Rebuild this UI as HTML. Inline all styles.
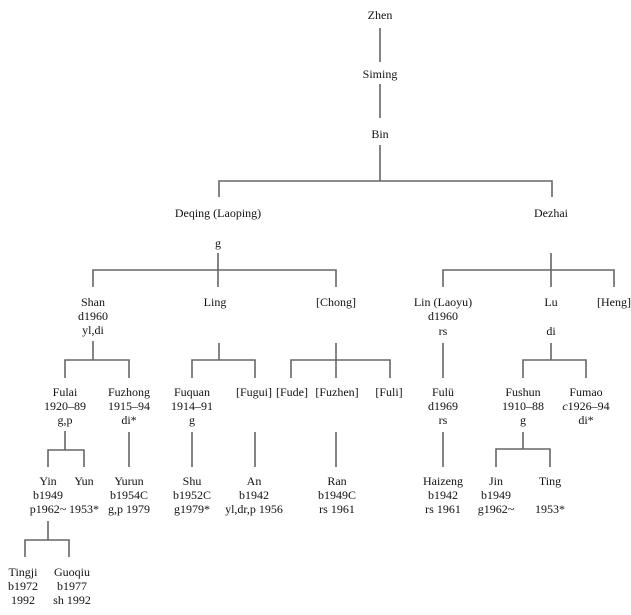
<!DOCTYPE html>
<html><head><meta charset="utf-8"><style>
html,body{margin:0;padding:0;background:#fff;}
svg{display:block;}
text{font-family:"Liberation Serif",serif;font-size:12px;fill:#111;text-anchor:middle;dominant-baseline:central;}
line,polyline{stroke:#666;stroke-width:1.6;fill:none;}
</style></head><body>
<svg width="631" height="615" viewBox="0 0 631 615" xmlns="http://www.w3.org/2000/svg">
<!-- trunk -->
<text x="380" y="15">Zhen</text>
<line x1="380" y1="28" x2="380" y2="62"/>
<text x="380" y="74">Siming</text>
<line x1="380" y1="84" x2="380" y2="118"/>
<text x="380" y="134">Bin</text>
<line x1="380" y1="145" x2="380" y2="181"/>
<polyline points="219,197 219,181 552,181 552,197"/>
<text x="218" y="213">Deqing (Laoping)</text>
<text x="551" y="213">Dezhai</text>
<text x="218" y="243">g</text>
<!-- Deqing children -->
<line x1="218" y1="253" x2="218" y2="287"/>
<polyline points="93,287 93,270 336,270 336,287"/>
<text x="93" y="302">Shan</text><text x="93" y="316">d1960</text><text x="93" y="330">yl,di</text>
<text x="215" y="302">Ling</text>
<text x="336" y="302">[Chong]</text>
<!-- Dezhai children -->
<line x1="551" y1="253" x2="551" y2="287"/>
<polyline points="443,287 443,270 614,270 614,287"/>
<text x="443" y="302">Lin (Laoyu)</text><text x="443" y="316">d1960</text><text x="443" y="331">rs</text>
<text x="551" y="302">Lu</text><text x="551" y="331">di</text>
<text x="614" y="302">[Heng]</text>
<!-- Shan -->
<line x1="93" y1="341" x2="93" y2="360"/>
<polyline points="65,378 65,360 129,360 129,378"/>
<text x="65" y="392">Fulai</text><text x="65" y="406">1920–89</text><text x="65" y="420">g,p</text>
<text x="129" y="392">Fuzhong</text><text x="129" y="406">1915–94</text><text x="129" y="420">di*</text>
<!-- Ling -->
<line x1="219" y1="343" x2="219" y2="360"/>
<polyline points="192,378 192,360 255,360 255,378"/>
<text x="192" y="392">Fuquan</text><text x="192" y="406">1914–91</text><text x="192" y="420">g</text>
<text x="254" y="392">[Fugui]</text>
<!-- Chong -->
<line x1="336" y1="343" x2="336" y2="378"/>
<polyline points="291,378 291,360 390,360 390,378"/>
<text x="292" y="392">[Fude]</text>
<text x="337" y="392">[Fuzhen]</text>
<text x="389" y="392">[Fuli]</text>
<!-- Lin -->
<line x1="443" y1="343" x2="443" y2="378"/>
<text x="443" y="392">Fulü</text><text x="443" y="406">d1969</text><text x="443" y="420">rs</text>
<!-- Lu -->
<line x1="551" y1="343" x2="551" y2="360"/>
<polyline points="523,378 523,360 586,360 586,378"/>
<text x="523" y="392">Fushun</text><text x="523" y="406">1910–88</text><text x="523" y="420">g</text>
<text x="586" y="392">Fumao</text><text x="586" y="406"><tspan font-style="italic">c</tspan>1926–94</text><text x="586" y="420">di*</text>
<!-- generation 5 -->
<line x1="65" y1="431" x2="65" y2="450"/>
<polyline points="48,467 48,450 84,450 84,467"/>
<text x="48" y="481">Yin</text><text x="48" y="495">b1949</text><text x="48" y="509">p1962~</text>
<text x="84" y="481">Yun</text><text x="84" y="509">1953*</text>
<line x1="129" y1="432" x2="129" y2="467"/>
<text x="129" y="481">Yurun</text><text x="129" y="495">b1954C</text><text x="129" y="509">g,p 1979</text>
<line x1="192" y1="432" x2="192" y2="467"/>
<text x="192" y="481">Shu</text><text x="192" y="495">b1952C</text><text x="192" y="509">g1979*</text>
<line x1="255" y1="432" x2="255" y2="467"/>
<text x="254" y="481">An</text><text x="254" y="495">b1942</text><text x="254" y="509">yl,dr,p 1956</text>
<line x1="336" y1="432" x2="336" y2="467"/>
<text x="337" y="481">Ran</text><text x="337" y="495">b1949C</text><text x="337" y="509">rs 1961</text>
<line x1="443" y1="432" x2="443" y2="467"/>
<text x="443" y="481">Haizeng</text><text x="443" y="495">b1942</text><text x="443" y="509">rs 1961</text>
<line x1="523" y1="432" x2="523" y2="449"/>
<polyline points="496,467 496,449 550,449 550,467"/>
<text x="496" y="481">Jin</text><text x="496" y="495">b1949</text><text x="496" y="509">g1962~</text>
<text x="550" y="481">Ting</text><text x="550" y="509">1953*</text>
<!-- generation 6 -->
<line x1="48" y1="521" x2="48" y2="540"/>
<polyline points="25,557 25,540 69,540 69,557"/>
<text x="23" y="572">Tingji</text><text x="23" y="586">b1972</text><text x="23" y="600">1992</text>
<text x="72" y="572">Guoqiu</text><text x="72" y="586">b1977</text><text x="72" y="600">sh 1992</text>
</svg>
</body></html>
